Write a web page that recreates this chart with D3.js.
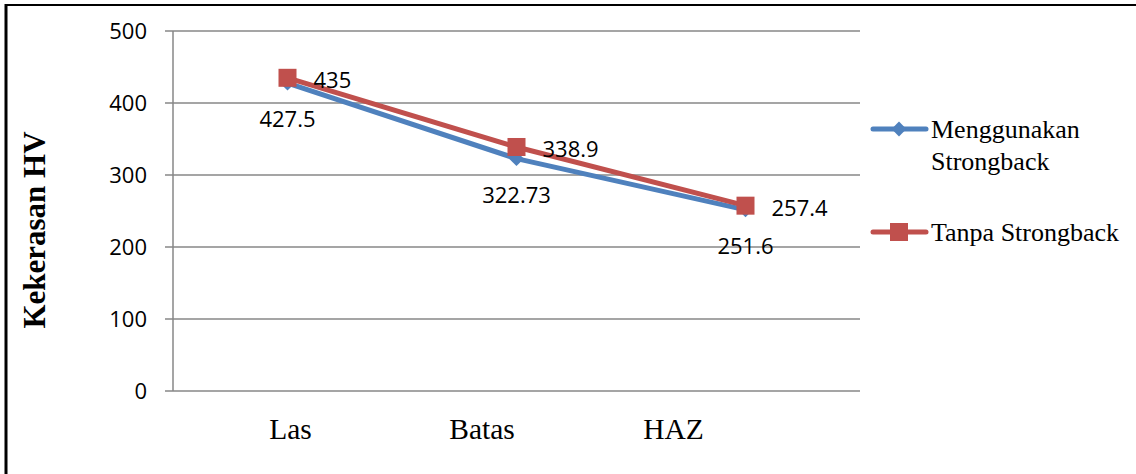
<!DOCTYPE html>
<html>
<head>
<meta charset="utf-8">
<script src="https://cdn.jsdelivr.net/npm/d3@7/dist/d3.min.js"></script>
<style>
html,body{margin:0;padding:0;background:#fff;}
svg{display:block;}
</style>
</head>
<body>
<svg id="chart" width="1136" height="474"></svg>
<script>
const categories = ["Las", "Batas", "HAZ"];
const seriesNames = ["Menggunakan Strongback", "Tanpa Strongback"];
const withStrongback = [427.5, 322.73, 251.6];
const withoutStrongback = [435, 338.9, 257.4];
const withLabels = ["427.5", "322.73", "251.6"];
const withoutLabels = ["435", "338.9", "257.4"];
const yTicks = [0, 100, 200, 300, 400, 500];
const yTitle = "Kekerasan HV";

const svg = d3.select("#chart");
const W = 1136, H = 474;
const plot = {left: 173, right: 860, top: 31, bottom: 391};

// outer frame
svg.append("line").attr("x1", 6).attr("x2", W).attr("y1", 5).attr("y2", 5)
  .attr("stroke", "#000").attr("stroke-width", 2);
svg.append("line").attr("x1", 6).attr("x2", 6).attr("y1", 4).attr("y2", H)
  .attr("stroke", "#000").attr("stroke-width", 3);

const x = d3.scaleBand().domain(categories).range([plot.left, plot.right]);
// category labels in the reference sit at their own, narrower spacing
const xLabel = d3.scalePoint().domain(categories).range([290, 673]);
const y = d3.scaleLinear().domain([0, 500]).range([plot.bottom, plot.top]);
const cx = c => x(c) + x.bandwidth() / 2;

// gridlines
const grid = svg.append("g");
yTicks.forEach(t => {
  grid.append("line")
    .attr("x1", plot.left - 8).attr("x2", plot.right)
    .attr("y1", y(t)).attr("y2", y(t))
    .attr("stroke", "#878787").attr("stroke-width", 1.5);
});
svg.append("line").attr("x1", plot.left).attr("x2", plot.left)
  .attr("y1", plot.top).attr("y2", plot.bottom)
  .attr("stroke", "#878787").attr("stroke-width", 1.5);

// y axis tick labels
const yAxis = d3.axisLeft(y).tickValues(yTicks).tickSize(0).tickPadding(0);
const ya = svg.append("g").attr("transform", `translate(${plot.left - 26},0)`).call(yAxis);
ya.select(".domain").remove();
ya.selectAll("text").attr("font-family", "'Open Sans', sans-serif").attr("font-size", 22)
  .attr("fill", "#000").attr("dy", "0.36em");

// x axis labels
const xAxis = d3.axisBottom(xLabel).tickSize(0).tickPadding(0);
const xa = svg.append("g").attr("transform", `translate(0,${plot.bottom + 48})`).call(xAxis);
xa.select(".domain").remove();
xa.selectAll("text").attr("font-family", "'Liberation Serif', 'Times New Roman', serif")
  .attr("font-size", 29.5).attr("fill", "#000").attr("dy", 0);

// y title
svg.append("text")
  .attr("transform", `translate(45,230) rotate(-90)`)
  .attr("text-anchor", "middle")
  .attr("font-family", "'Liberation Serif', 'Times New Roman', serif")
  .attr("font-weight", "bold").attr("font-size", 31)
  .text(yTitle);

const blue = "#4F81BD", red = "#C0504D";
const line = d3.line().x((d, i) => cx(categories[i])).y(d => y(d));

// blue series
svg.append("path").datum(withStrongback).attr("d", line)
  .attr("fill", "none").attr("stroke", blue).attr("stroke-width", 5).attr("stroke-linejoin", "round");
svg.selectAll(".bm").data(withStrongback).join("path")
  .attr("d", d3.symbol().type(d3.symbolSquare).size(110))
  .attr("transform", (d, i) => `translate(${cx(categories[i])},${y(d)}) rotate(45)`)
  .attr("fill", blue);

// red series
svg.append("path").datum(withoutStrongback).attr("d", line)
  .attr("fill", "none").attr("stroke", red).attr("stroke-width", 5).attr("stroke-linejoin", "round");
svg.selectAll(".rm").data(withoutStrongback).join("rect")
  .attr("x", (d, i) => cx(categories[i]) - 9).attr("y", d => y(d) - 9)
  .attr("width", 18).attr("height", 18).attr("fill", red);

// data labels
const lblFont = "'Open Sans', sans-serif";
svg.selectAll(".bl").data(withStrongback).join("text")
  .attr("x", (d, i) => cx(categories[i])).attr("y", d => y(d) + 36)
  .attr("text-anchor", "middle").attr("dy", "0.36em")
  .attr("font-family", lblFont).attr("font-size", 22)
  .text((d, i) => withLabels[i]);
svg.selectAll(".rl").data(withoutStrongback).join("text")
  .attr("x", (d, i) => cx(categories[i]) + 26).attr("y", d => y(d) + 2)
  .attr("text-anchor", "start").attr("dy", "0.36em")
  .attr("font-family", lblFont).attr("font-size", 22)
  .text((d, i) => withoutLabels[i]);

// legend
const lg = svg.append("g");
const serif = "'Liberation Serif', 'Times New Roman', serif";
const lfs = 26;
lg.append("line").attr("x1", 873).attr("x2", 926).attr("y1", 129).attr("y2", 129)
  .attr("stroke", blue).attr("stroke-width", 5).attr("stroke-linecap", "round");
lg.append("path").attr("d", d3.symbol().type(d3.symbolSquare).size(110))
  .attr("transform", "translate(899,129) rotate(45)").attr("fill", blue);
lg.append("text").attr("x", 931).attr("y", 138).attr("font-family", serif).attr("font-size", lfs).text("Menggunakan");
lg.append("text").attr("x", 931).attr("y", 170).attr("font-family", serif).attr("font-size", lfs).text("Strongback");

lg.append("line").attr("x1", 873).attr("x2", 926).attr("y1", 232).attr("y2", 232)
  .attr("stroke", red).attr("stroke-width", 5).attr("stroke-linecap", "round");
lg.append("rect").attr("x", 890).attr("y", 223).attr("width", 18).attr("height", 18).attr("fill", red);
lg.append("text").attr("x", 931).attr("y", 241).attr("font-family", serif).attr("font-size", lfs).text("Tanpa Strongback");
</script>
</body>
</html>
